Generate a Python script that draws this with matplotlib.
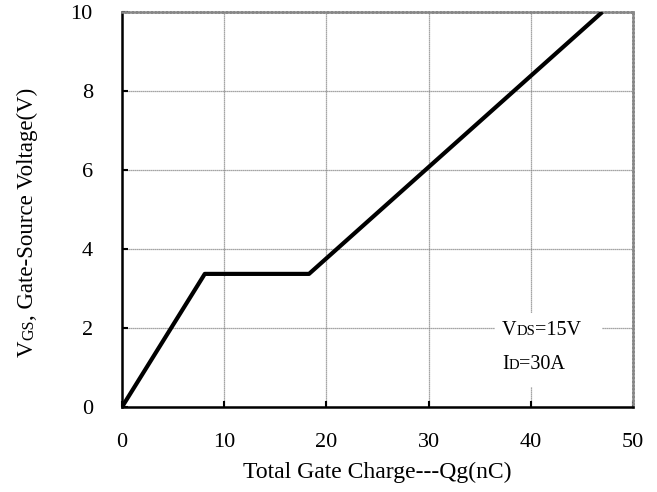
import numpy as np
import matplotlib
matplotlib.use('Agg')
import matplotlib.pyplot as plt
from matplotlib.patches import Rectangle
from matplotlib.transforms import IdentityTransform

# gate charge curve (nC, V)
qg = [0, 8.1, 18.3, 47.0]
vgs = [0, 3.37, 3.37, 10.0]

x_ticks = [0, 10, 20, 30, 40, 50]
y_ticks = [0, 2, 4, 6, 8, 10]

plt.rcParams['font.family'] = ['Liberation Serif', 'DejaVu Serif']

fig = plt.figure(figsize=(6.57, 4.92), dpi=100)
ax = fig.add_axes([122 / 657, 1 - 407 / 492, 511 / 657, 395 / 492])

ax.plot(qg, vgs, color='black', lw=3.0, solid_capstyle='butt', zorder=3)

ax.set_xlim(0, 50)
ax.set_ylim(0, 10)
ax.set_xticks(x_ticks)
ax.set_yticks(y_ticks)
ax.tick_params(direction='in', length=4, width=1.5, labelsize=16, colors='black')
ax.tick_params(axis='x', pad=19)
ax.tick_params(axis='y', pad=21)
ax.grid(True, color='#888888', lw=0.9, ls=(0, (1, 0.6)))
for s in ['left', 'bottom']:
    ax.spines[s].set_linewidth(1.8)
    ax.spines[s].set_color('black')
for s in ['top', 'right']:
    ax.spines[s].set_linewidth(1.8)
    ax.spines[s].set_color('#888888')
    ax.spines[s].set_linestyle((0, (1, 0.5)))

ax.set_xlabel('Total Gate Charge---Qg(nC)', fontsize=17, labelpad=7)

# white background behind the test conditions
ax.add_patch(Rectangle((36.5, 0.51), 10.5, 1.87, facecolor='white',
                       edgecolor='none', zorder=2))

fig.canvas.draw()
renderer = fig.canvas.get_renderer()


def pieces(x0, y0, parts, rotation=0):
    # draw text pieces of different sizes along a common baseline (pixels)
    x, y = x0, y0
    for s, size in parts:
        t = fig.text(x, y, s, fontsize=size, transform=IdentityTransform(),
                     rotation=rotation, rotation_mode='anchor',
                     ha='left', va='baseline', zorder=5)
        bb = t.get_window_extent(renderer)
        if rotation == 0:
            x += bb.width
        else:
            y += bb.height


H = 492
# y label, rotated
pieces(33, H - 357, [('V', 16.5), ('GS', 11.5), (', Gate-Source Voltage(V)', 16.5)], rotation=90)
# annotation
pieces(502, H - 335, [('V', 14.5), ('DS', 10.5), ('=15V', 14.5)])
pieces(502, H - 369, [('I', 14.5), ('D', 10.5), ('=30A', 14.5)])

fig.savefig('out.png', dpi=100)
